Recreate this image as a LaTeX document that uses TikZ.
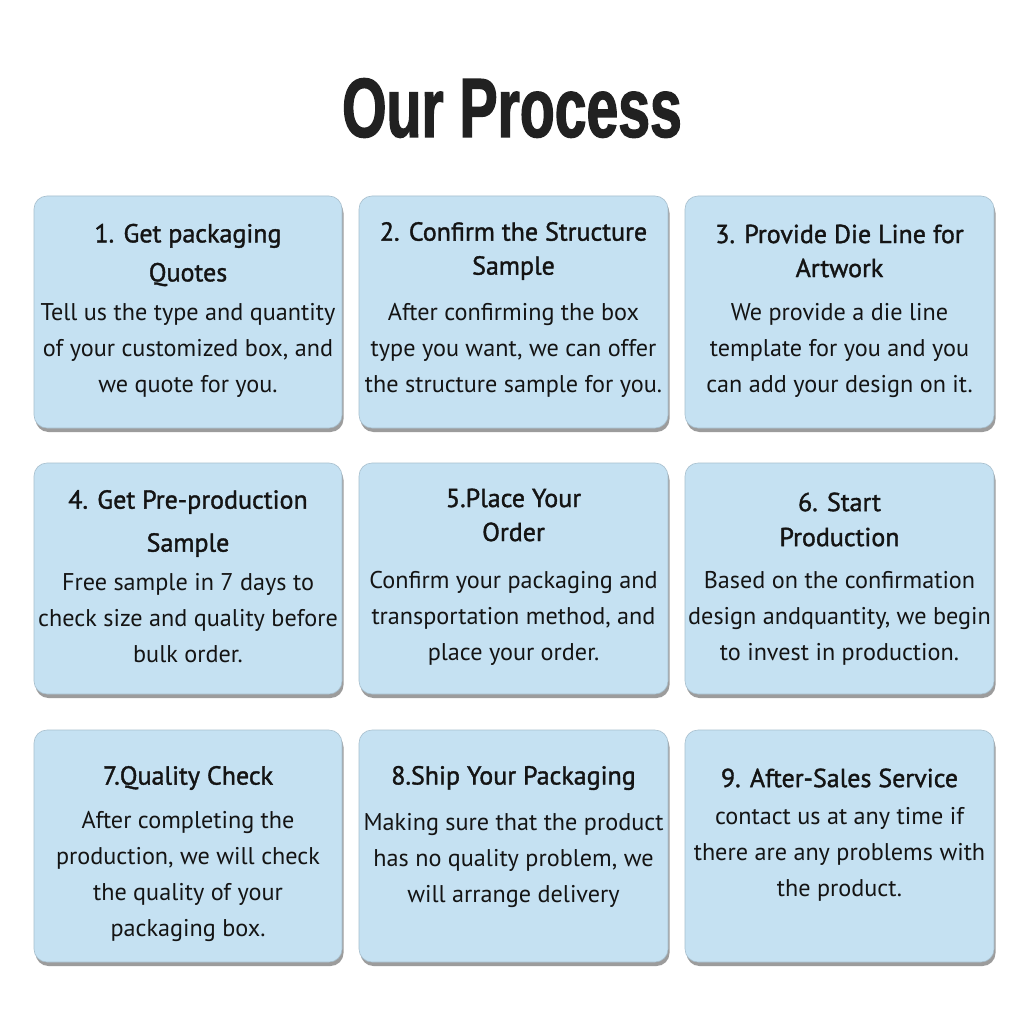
\documentclass[tikz,border=0pt]{standalone}
\usepackage{fontspec}
\setmainfont{PT Sans}
\newfontfamily\titlefont[FakeStretch=0.68,FakeBold=1.5]{Liberation Sans}
\newfontfamily\headfont[FakeBold=1.4]{PT Sans}
\usetikzlibrary{shadows}
\definecolor{cardblue}{RGB}{197,225,242}
\definecolor{ink}{RGB}{20,20,20}
\tikzset{
  card/.style={draw=cardblue!85!black, line width=0.6pt, fill=cardblue, rounded corners=13pt,
    drop shadow={shadow xshift=1.5pt, shadow yshift=-4pt, opacity=0.55, fill=black!70}},
  head/.style={align=center, text=ink, font=\headfont\fontsize{26}{35}\selectfont},
  body/.style={align=center, text=ink, font=\fontsize{24.2}{36}\selectfont},
}
\begin{document}
\begin{tikzpicture}[x=1pt,y=-1pt]
\useasboundingbox (0,0) rectangle (1024,1024);
\fill[white] (0,0) rectangle (1024,1024);
\node[text=black!87, font=\titlefont\bfseries\fontsize{84}{84}\selectfont] (title) at (512,108) {Our Process};
% cards
\path[card] (34,196) rectangle (342,428) node[pos=0.5] (c1) {};
\path[card] (359,196) rectangle (668,428) node[pos=0.5] (c2) {};
\path[card] (685,196) rectangle (994,428) node[pos=0.5] (c3) {};
\path[card] (34,463) rectangle (342,694) node[pos=0.5] (c4) {};
\path[card] (359,463) rectangle (668,694) node[pos=0.5] (c5) {};
\path[card] (685,463) rectangle (994,694) node[pos=0.5] (c6) {};
\path[card] (34,730) rectangle (342,962) node[pos=0.5] (c7) {};
\path[card] (359,730) rectangle (668,962) node[pos=0.5] (c8) {};
\path[card] (685,730) rectangle (994,962) node[pos=0.5] (c9) {};
% texts
\node[head, font=\headfont\fontsize{26}{39}\selectfont] (h1) at (188,255) {1. Get packaging\\Quotes};
\node[body] (b1) at (188,350) {Tell us the type and quantity\\of your customized box, and\\we quote for you.};
\node[head, font=\headfont\fontsize{26}{34}\selectfont] (h2) at (513.5,251) {2. Confirm the Structure\\Sample};
\node[body] (b2) at (513.5,350) {After confirming the box\\type you want, we can offer\\the structure sample for you.};
\node[head, font=\headfont\fontsize{26}{34}\selectfont] (h3) at (839.5,251) {3. Provide Die Line for\\Artwork};
\node[body] (b3) at (839.5,350) {We provide a die line\\template for you and you\\can add your design on it.};
\node[head, font=\headfont\fontsize{26}{43}\selectfont] (h4) at (188,523.5) {4. Get Pre-production\\Sample};
\node[body] (b4) at (188,618) {Free sample in 7 days to\\check size and quality before\\bulk order.};
\node[head, font=\headfont\fontsize{26}{34}\selectfont] (h5) at (513.5,515) {5.Place Your\\Order};
\node[body] (b5) at (513.5,618) {Confirm your packaging and\\transportation method, and\\place your order.};
\node[head, font=\headfont\fontsize{26}{35}\selectfont] (h6) at (839.5,519.5) {6. Start\\Production};
\node[body] (b6) at (839.5,618) {Based on the confirmation\\design andquantity, we begin\\to invest in production.};
\node[head] (h7) at (188,778) {7.Quality Check};
\node[body] (b7) at (188,876.5) {After completing the\\production, we will check\\the quality of your\\packaging box.};
\node[head] (h8) at (513.5,778) {8.Ship Your Packaging};
\node[body] (b8) at (513.5,860) {Making sure that the product\\has no quality problem, we\\will arrange delivery};
\node[head] (h9) at (839.5,778) {9. After-Sales Service};
\node[body] (b9) at (839.5,854) {contact us at any time if\\there are any problems with\\the product.};
\end{tikzpicture}
\end{document}
